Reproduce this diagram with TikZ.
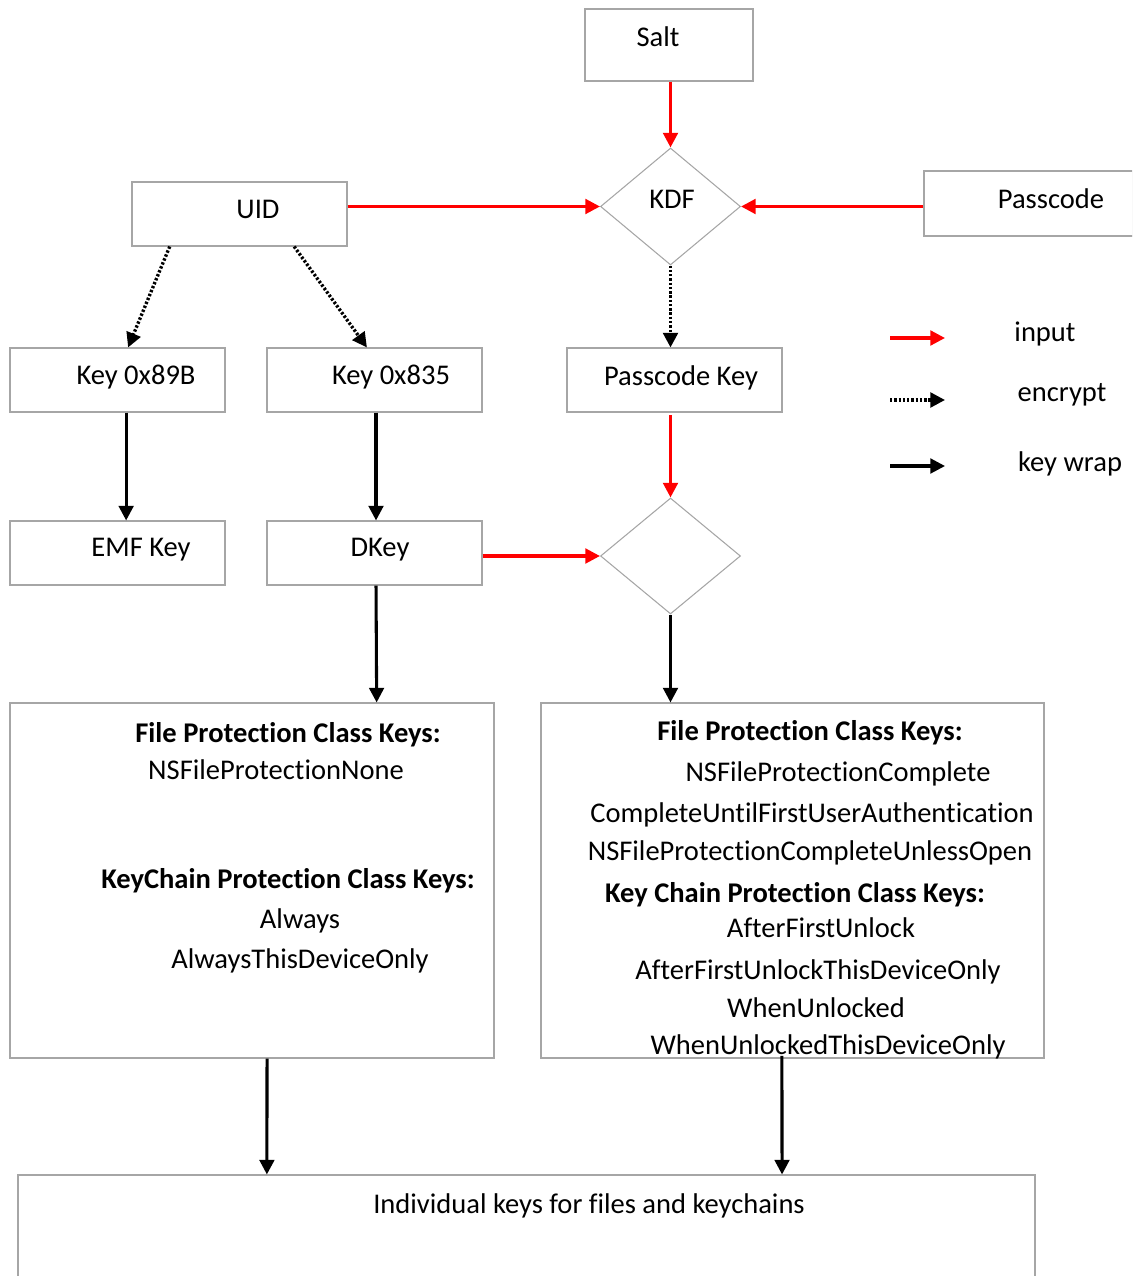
\documentclass[tikz,border=0pt]{standalone}
\usepackage{fontspec}
\setmainfont{Carlito}[Ligatures=NoCommon]
\usetikzlibrary{arrows.meta,shapes.geometric,fit,calc,shadows}
\begin{document}
\begin{tikzpicture}[x=0.75pt,y=-0.75pt,
  box/.style={draw=black!35,line width=0.8pt,fill=white,inner sep=0pt,
    drop shadow={shadow xshift=0.9pt,shadow yshift=-0.9pt,fill=black!22,opacity=1}},
  dia/.style={draw=black!35,line width=0.8pt,diamond,inner sep=0pt,minimum width=105pt},
  txt/.style={anchor=base,inner sep=0pt,font=\fontsize{21.4}{25}\selectfont},
  btxt/.style={txt,font=\fontsize{21.4}{25}\selectfont\bfseries},
  inarrow/.style={draw=red,line width=2.4pt,-{Triangle[length=11pt,width=11pt]}},
  encarrow/.style={draw=black,line width=2.5pt,dash pattern=on 1.8pt off 1.4pt,-{Triangle[length=11pt,width=11pt]}},
  wraparrow/.style={draw=black,line width=2.3pt,-{Triangle[length=11pt,width=11pt]}}]
\useasboundingbox (0,0) rectangle (1132,1276);
\clip (0,0) rectangle (1132,1276);
% boxes
\node[box,fit={(585,9) (753,81)}] (salt) {};
\node[box,fit={(132,182) (347,246)}] (uid) {};
\node[box,fit={(924,171) (1150,236)}] (pass) {};
\node[box,fit={(10,348) (225,412)}] (k89) {};
\node[box,fit={(267,348) (482,412)}] (k835) {};
\node[box,fit={(567,348) (782,412)}] (pk) {};
\node[box,fit={(10,521) (225,585)}] (emf) {};
\node[box,fit={(267,521) (482,585)}] (dkey) {};
\node[box,fit={(10,703) (494,1058)}] (lbox) {};
\node[box,fit={(541,703) (1044,1058)}] (rbox) {};
\node[box,fit={(18,1175) (1035,1300)}] (bot) {};
\node[dia,minimum height=87.75pt] (kdf) at (670.5,206.5) {};
\node[dia,minimum height=87pt] (d2) at (670.5,556) {};
% texts
\node[txt] (tsalt) at (658,47) {Salt};
\node[txt] (tkdf) at (672,209) {KDF};
\node[txt] (tuid) at (258,219) {UID};
\node[txt] (tpass) at (1051,209) {Passcode};
\node[txt] (tk89) at (136,384) {Key 0x89B};
\node[txt] (tk835) at (391,384) {Key 0x835};
\node[txt] (tpk) at (681,386) {Passcode Key};
\node[txt] (temf) at (141,556) {EMF Key};
\node[txt] (tdkey) at (380,556) {DKey};
\node[btxt] (l1) at (288,742) {File Protection Class Keys:};
\node[txt] (l2) at (276,779) {NSFileProtectionNone};
\node[btxt] (l3) at (288,888) {KeyChain Protection Class Keys:};
\node[txt] (l4) at (300,928) {Always};
\node[txt] (l5) at (300,968) {AlwaysThisDeviceOnly};
\node[btxt] (r1) at (810,740) {File Protection Class Keys:};
\node[txt] (r2) at (838,781) {NSFileProtectionComplete};
\node[txt] (r3) at (812,822) {CompleteUntilFirstUserAuthentication};
\node[txt] (r4) at (810,860) {NSFileProtectionCompleteUnlessOpen};
\node[btxt] (r5) at (795,902) {Key Chain Protection Class Keys:};
\node[txt] (r6) at (821,937) {AfterFirstUnlock};
\node[txt] (r7) at (818,979) {AfterFirstUnlockThisDeviceOnly};
\node[txt] (r8) at (816,1017) {WhenUnlocked};
\node[txt] (r9) at (828,1054) {WhenUnlockedThisDeviceOnly};
\node[txt] (tbot) at (589,1213) {Individual keys for files and keychains};
% legend
\node[txt] (lg1) at (1045,342) {input};
\node[txt] (lg2) at (1062,401) {encrypt};
\node[txt] (lg3) at (1070,471) {key wrap};
\coordinate (a1) at (890,338); \coordinate (a2) at (945,338);
\coordinate (b1) at (890,400); \coordinate (b2) at (945,400);
\coordinate (c1) at (890,466); \coordinate (c2) at (945,466);
\draw[inarrow] (a1) -- (a2);
\draw[encarrow] (b1) -- (b2);
\draw[wraparrow] (c1) -- (c2);
% connectors
\draw[inarrow] (kdf.north |- salt.south) -- (kdf.north);
\draw[inarrow] (uid.east |- kdf.west) -- (kdf.west);
\draw[inarrow] (pass.west |- kdf.east) -- (kdf.east);
\draw[encarrow] (kdf.south) -- (kdf.south |- pk.north);
\draw[encarrow] ($(uid.south west)!0.177!(uid.south east)$) -- ($(k89.north west)!0.549!(k89.north east)$);
\draw[encarrow] ($(uid.south west)!0.753!(uid.south east)$) -- ($(k835.north west)!0.465!(k835.north east)$);
\draw[wraparrow] ($(k89.south west)!0.54!(k89.south east)$) -- ($(emf.north west)!0.54!(emf.north east)$);
\draw[wraparrow] ($(k835.south west)!0.507!(k835.south east)$) -- ($(dkey.north west)!0.507!(dkey.north east)$);
\draw[inarrow] ([yshift=-2pt]d2.north |- pk.south) -- (d2.north);
\draw[inarrow] (dkey.east |- d2.west) -- (d2.west);
\draw[wraparrow] ($(dkey.south west)!0.507!(dkey.south east)$) -- ($(lbox.north west)!0.757!(lbox.north east)$);
\draw[wraparrow] (d2.south) -- (d2.south |- rbox.north);
\draw[wraparrow] ($(lbox.south west)!0.531!(lbox.south east)$) -- ($(bot.north west)!0.245!(bot.north east)$);
\draw[wraparrow] ([yshift=2pt]$(rbox.south west)!0.479!(rbox.south east)$) -- ($(bot.north west)!0.751!(bot.north east)$);
\end{tikzpicture}
\end{document}
